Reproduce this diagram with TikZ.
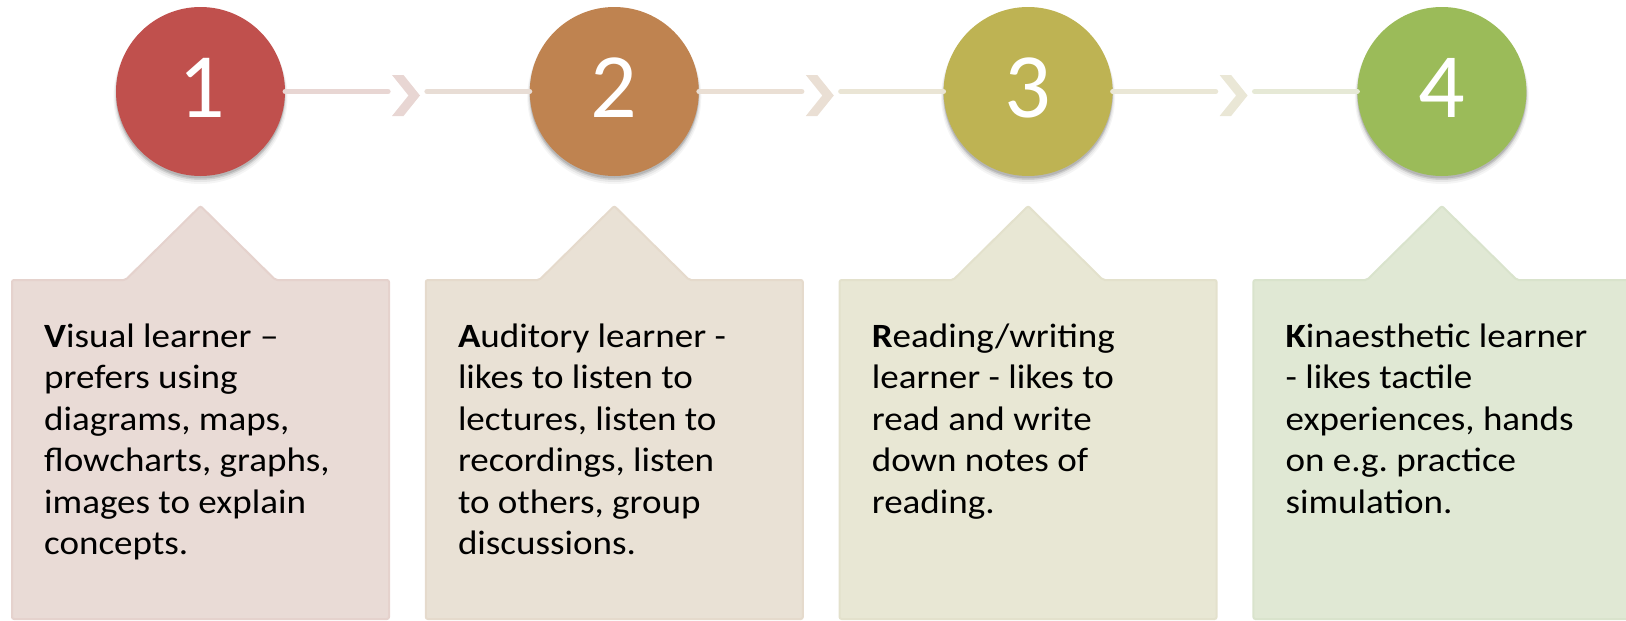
\documentclass[tikz,border=0pt]{standalone}
\usepackage{fontspec}
\setmainfont{Carlito}
\newfontfamily\boxfont[FakeStretch=1.09]{Carlito}
\frenchspacing
\definecolor{cA}{HTML}{C0504D}
\definecolor{cB}{HTML}{BF8350}
\definecolor{cC}{HTML}{BEB353}
\definecolor{cD}{HTML}{9BBB59}
\definecolor{fA}{HTML}{E9DBD6}
\definecolor{fB}{HTML}{E9E1D5}
\definecolor{fC}{HTML}{E8E7D4}
\definecolor{fD}{HTML}{E0E8D4}
\definecolor{bA}{HTML}{E5D2CD}
\definecolor{bB}{HTML}{E5DACC}
\definecolor{bC}{HTML}{E3E1CC}
\definecolor{bD}{HTML}{D9E3CC}
\definecolor{lA}{HTML}{E8D6D3}
\definecolor{lB}{HTML}{E8DDD5}
\definecolor{lC}{HTML}{EADFD4}
\definecolor{lD}{HTML}{EAE5D5}
\definecolor{lE}{HTML}{EAE7D6}
\definecolor{lF}{HTML}{E6E9D6}
\begin{document}
\begin{tikzpicture}[x=1pt,y=-1pt,
  numcirc/.style={circle, minimum size=169pt, inner sep=0pt, draw=none},
  conn/.style={line width=5.3pt, line cap=round},
  boxtext/.style={anchor=base west, inner sep=0pt},
  digit/.style={anchor=base, text=white, inner sep=0pt, font=\fontsize{92}{92}\selectfont}]
\useasboundingbox (0,0) rectangle (1626,621);
\clip (0,0) rectangle (1626,621);

% boxes with pointer
\foreach \c/\f/\b in {200.5/fA/bA, 614.3/fB/bB, 1028.1/fC/bC, 1441.9/fD/bD}{
  \filldraw[fill=\f, draw=\b, line width=2pt, rounded corners=2pt]
    (\c-188.5,280) -- (\c-75,280) -- (\c,206) -- (\c+75,280) -- (\c+188.5,280)
    -- (\c+188.5,619) -- (\c-188.5,619) -- cycle;
}

% circle shadows
\foreach \c in {200.5, 614.3, 1028.1, 1441.9}{
  \fill[black, opacity=0.04] (\c,97) circle (87pt);
  \fill[black, opacity=0.06] (\c,96) circle (86pt);
  \fill[black, opacity=0.10] (\c,95) circle (85pt);
  \fill[black, opacity=0.12] (\c,94) circle (84.5pt);
}

% circles
\node[numcirc, fill=cA] (c1) at (200.5,91.5) {};
\node[numcirc, fill=cB] (c2) at (614.3,91.5) {};
\node[numcirc, fill=cC] (c3) at (1028.1,91.5) {};
\node[numcirc, fill=cD] (c4) at (1441.9,91.5) {};

\node[digit] (n1) at (201.5,117) {1};
\node[digit] (n2) at (614.3,117) {2};
\node[digit] (n3) at (1028.1,117) {3};
\node[digit] (n4) at (1441.9,117) {4};

% connector end points
\coordinate (a1) at (388,91.5);
\coordinate (b1) at (427,91.5);
\coordinate (a2) at (801.8,91.5);
\coordinate (b2) at (840.8,91.5);
\coordinate (a3) at (1215.6,91.5);
\coordinate (b3) at (1254.6,91.5);

\draw[conn, draw=lA] (c1) -- (a1);
\draw[conn, draw=lB] (b1) -- (c2);
\draw[conn, draw=lC] (c2) -- (a2);
\draw[conn, draw=lD] (b2) -- (c3);
\draw[conn, draw=lE] (c3) -- (a3);
\draw[conn, draw=lF] (b3) -- (c4);

% chevrons
\foreach \x/\col in {392/lA, 805.8/lC, 1219.6/lE}{
  \fill[\col] (\x,75) -- (\x+11.5,75) -- (\x+28,95.5) -- (\x+11.5,116) -- (\x,116) -- (\x+16.5,95.5) -- cycle;
}

% texts
\node[boxtext] (t1) at (44,347.5) {\parbox[t]{340pt}{\boxfont\fontsize{34}{41.4}\selectfont\raggedright
\textbf{V}isual learner –\\ prefers using\\ diagrams, maps,\\ flowcharts, graphs,\\ images to explain\\ concepts.}};
\node[boxtext] (t2) at (457.8,347.5) {\parbox[t]{340pt}{\boxfont\fontsize{34}{41.4}\selectfont\raggedright
\textbf{A}uditory learner -\\ likes to listen to\\ lectures, listen to\\ recordings, listen\\ to others, group\\ discussions.}};
\node[boxtext] (t3) at (871.6,347.5) {\parbox[t]{340pt}{\boxfont\fontsize{34}{41.4}\selectfont\raggedright
\textbf{R}eading/writing\\ learner - likes to\\ read and write\\ down notes of\\ reading.}};
\node[boxtext] (t4) at (1285.4,347.5) {\parbox[t]{340pt}{\boxfont\fontsize{34}{41.4}\selectfont\raggedright
\textbf{K}inaesthetic learner\\ - likes tactile\\ experiences, hands\\ on e.g. practice\\ simulation.}};
\end{tikzpicture}
\end{document}
